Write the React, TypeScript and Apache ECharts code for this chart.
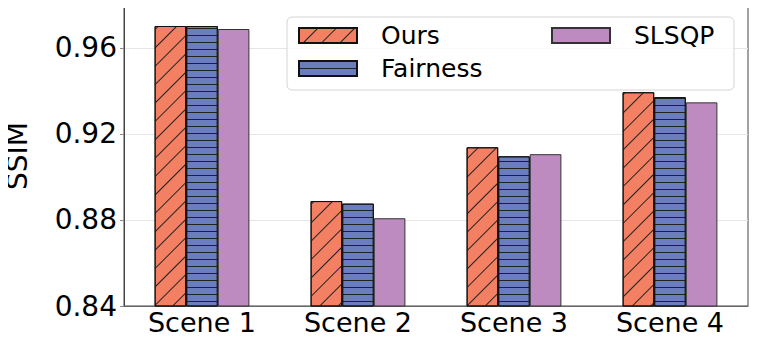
import React, { useEffect, useRef } from "react";
import * as echarts from "echarts";

const categories = ["Scene 1", "Scene 2", "Scene 3", "Scene 4"];
const oursValues = [0.9702, 0.8888, 0.9138, 0.9394];
const fairnessValues = [0.9702, 0.8876, 0.9096, 0.9371];
const slsqpValues = [0.9688, 0.8808, 0.9106, 0.9347];
const yTicks = [0.84, 0.88, 0.92, 0.96];

const FONT = "DejaVu Sans";

export default function App() {
  const ref = useRef<HTMLDivElement>(null);
  useEffect(() => {
    if (!ref.current) return;
    const chart = echarts.init(ref.current, null, { renderer: "svg" });
    const barW = 31.6;
    const LF = 25;
    const legendText = {
      fontSize: LF,
      color: "#000",
      fontFamily: FONT,
      padding: [0, 0, 0, 19],
    };
    chart.setOption({
      animation: false,
      backgroundColor: "#fff",
      textStyle: { fontFamily: FONT },
      grid: {
        left: 124,
        right: 9,
        top: 6,
        bottom: 36,
        show: true,
        borderColor: "#444",
        borderWidth: 1,
        backgroundColor: "transparent",
        containLabel: false,
        outerBoundsMode: "none",
      },
      xAxis: {
        type: "category",
        data: categories,
        axisLine: { lineStyle: { color: "#666" } },
        axisTick: { alignWithLabel: true, length: 4, lineStyle: { color: "#888" } },
        axisLabel: { fontSize: 27, color: "#000", margin: 3, fontFamily: FONT },
      },
      yAxis: {
        type: "value",
        min: yTicks[0],
        max: 0.9795,
        interval: 0.04,
        name: "SSIM",
        nameLocation: "middle",
        nameGap: 93,
        nameTextStyle: { fontSize: 28, color: "#000", fontFamily: FONT },
        axisLine: { show: true, lineStyle: { color: "#444" } },
        axisTick: { show: true, length: 4, lineStyle: { color: "#888" } },
        axisLabel: {
          fontSize: 28,
          color: "#000",
          margin: 7,
          fontFamily: FONT,
          showMaxLabel: false,
          formatter: (v: number) =>
            yTicks.some((t) => Math.abs(t - v) < 1e-6) ? v.toFixed(2) : "",
        },
        splitLine: { show: true, lineStyle: { color: "#e6e6e6", width: 1 } },
      },
      legend: [
        {
          data: ["Ours", "Fairness"],
          orient: "vertical",
          left: 298,
          top: 28 - (LF - 15) / 2,
          icon: "rect",
          itemWidth: 58,
          itemHeight: 15,
          itemGap: 33 - LF,
          padding: 0,
          z: 10,
          textStyle: legendText,
        },
        {
          data: ["SLSQP"],
          orient: "vertical",
          left: 551,
          top: 28 - (LF - 15) / 2,
          icon: "rect",
          itemWidth: 58,
          itemHeight: 15,
          padding: 0,
          z: 10,
          textStyle: legendText,
        },
      ],
      graphic: [
        {
          type: "rect",
          z: 3,
          shape: { x: 287, y: 17, width: 447, height: 73, r: 5 },
          style: { fill: "rgba(255,255,255,0.8)", stroke: "#d4d4d4", lineWidth: 1 },
        },
      ],
      series: [
        {
          name: "Ours",
          type: "bar",
          data: oursValues,
          barWidth: barW,
          barGap: "0%",
          itemStyle: {
            color: "#F38062",
            borderColor: "#111",
            borderWidth: 1,
            decal: {
              symbol: "rect",
              symbolSize: 1,
              dashArrayX: [1, 0],
              dashArrayY: [1, 12],
              rotation: -Math.PI / 4,
              color: "#222",
            },
          },
        },
        {
          name: "Fairness",
          type: "bar",
          data: fairnessValues,
          barWidth: barW,
          barGap: "0%",
          itemStyle: {
            color: "#6A7DBE",
            borderColor: "#111",
            borderWidth: 1,
            decal: {
              symbol: "rect",
              symbolSize: 1,
              dashArrayX: [1, 0],
              dashArrayY: [1, 6],
              rotation: 0,
              color: "#222",
            },
          },
        },
        {
          name: "SLSQP",
          type: "bar",
          data: slsqpValues,
          barWidth: barW,
          barGap: "0%",
          itemStyle: { color: "#BD8BBF", borderColor: "#333", borderWidth: 1 },
        },
      ],
    });
    return () => chart.dispose();
  }, []);
  return <div ref={ref} style={{ width: 757, height: 342, margin: -8 }} />;
}
